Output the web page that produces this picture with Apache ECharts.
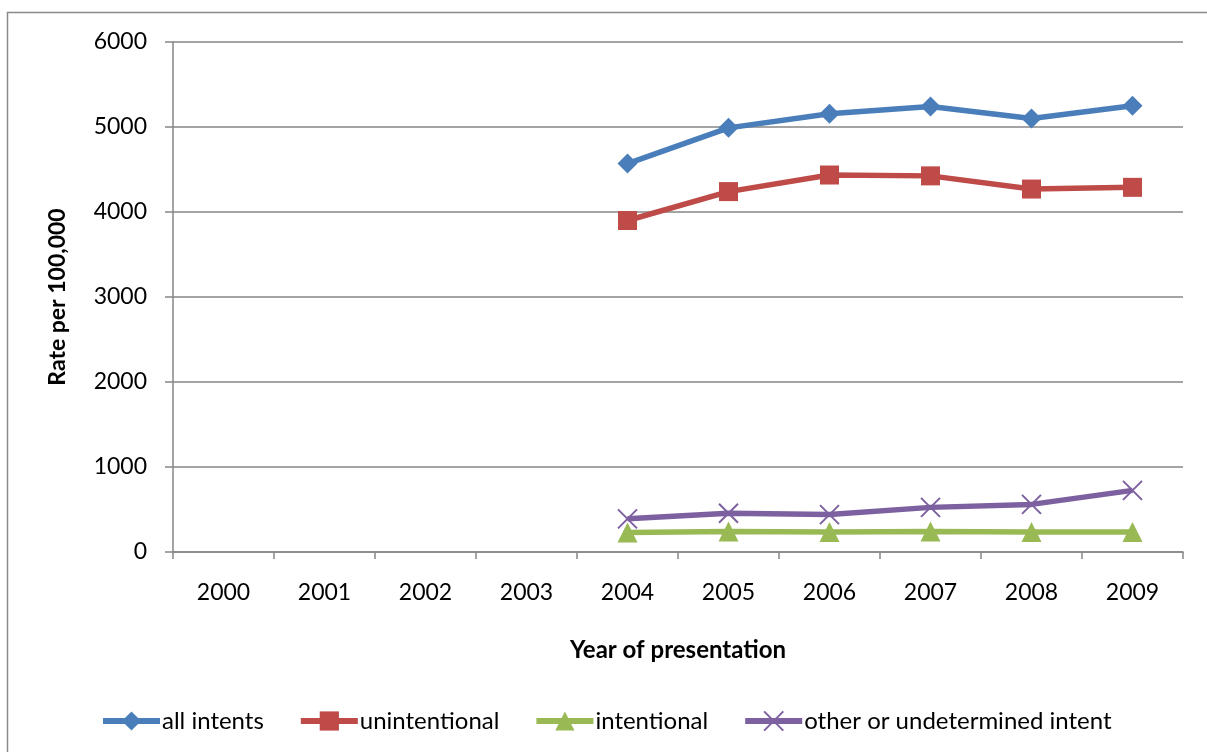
<!DOCTYPE html>
<html>
<head>
<meta charset="utf-8">
<title>Rate per 100,000 by year of presentation</title>
<script src="https://cdn.jsdelivr.net/npm/echarts@6/dist/echarts.min.js"></script>
<style>
  html, body { margin: 0; padding: 0; background: #ffffff; }
  #chart { width: 1207px; height: 752px; }
</style>
</head>
<body>
<div id="chart"></div>
<script>
// Years on the horizontal axis
const years = ['2000', '2001', '2002', '2003', '2004', '2005', '2006', '2007', '2008', '2009'];

// Rates per 100,000 (no data before 2004)
const allIntents    = [null, null, null, null, 4570, 4990, 5155, 5240, 5100, 5250];
const unintentional = [null, null, null, null, 3900, 4240, 4435, 4425, 4270, 4290];
const intentional   = [null, null, null, null, 230, 240, 235, 240, 235, 235];
const otherIntent   = [null, null, null, null, 390, 455, 440, 525, 560, 725];

const seriesNames = ['all intents', 'unintentional', 'intentional', 'other or undetermined intent'];

const FONT = 'Lato';
const GRID = '#868686';

const chart = echarts.init(document.getElementById('chart'), null, { renderer: 'canvas' });

function lineSeries(name, data, color, symbol, size, extra) {
  return Object.assign({
    name: name,
    type: 'line',
    data: data,
    symbol: symbol,
    symbolSize: size,
    showSymbol: true,
    connectNulls: false,
    lineStyle: { color: color, width: 5.5 },
    itemStyle: { color: color },
    emphasis: { disabled: true },
    z: 3
  }, extra || {});
}

chart.setOption({
  animation: false,
  backgroundColor: '#ffffff',
  graphic: [{
    type: 'rect',
    shape: { x: 7.5, y: 12.5, width: 1400, height: 900 },
    style: { fill: 'none', stroke: '#8a8a8a', lineWidth: 1.5 },
    silent: true,
    z: -1
  }],
  grid: { left: 173, right: 24, top: 42, bottom: 200, containLabel: false },
  legend: {
    data: seriesNames,
    bottom: 19,
    left: 100,
    padding: 0,
    itemWidth: 57,
    itemHeight: 24,
    itemGap: 34,
    lineStyle: { width: 6 },
    textStyle: { fontFamily: FONT, fontSize: 24, color: '#000000', padding: [0, 0, 0, -3] }
  },
  xAxis: {
    type: 'category',
    data: years,
    boundaryGap: true,
    name: 'Year of presentation',
    nameLocation: 'middle',
    nameGap: 86,
    nameTextStyle: { fontFamily: FONT, fontSize: 24, fontWeight: 'bold', color: '#000000' },
    axisLine: { show: true, lineStyle: { color: GRID, width: 1.5 } },
    axisTick: { show: true, alignWithLabel: false, inside: false, length: 7, lineStyle: { color: GRID, width: 1.5 } },
    axisLabel: { fontFamily: FONT, fontSize: 23, color: '#000000', margin: 29 },
    splitLine: { show: false }
  },
  yAxis: {
    type: 'value',
    min: 0,
    max: 6000,
    interval: 1000,
    name: 'Rate per 100,000',
    nameLocation: 'middle',
    nameGap: 104,
    nameRotate: 90,
    nameTextStyle: { fontFamily: FONT, fontSize: 23, fontWeight: 'bold', color: '#000000' },
    axisLine: { show: true, lineStyle: { color: GRID, width: 1.5 } },
    axisTick: { show: true, inside: false, length: 8, lineStyle: { color: GRID, width: 1.5 } },
    axisLabel: { fontFamily: FONT, fontSize: 23, color: '#000000', margin: 26, formatter: function (v) { return String(v); } },
    splitLine: { show: true, lineStyle: { color: GRID, width: 1.5 } }
  },
  series: [
    lineSeries(seriesNames[0], allIntents, '#4A7EBB', 'diamond', 20),
    lineSeries(seriesNames[1], unintentional, '#BE4B48', 'rect', 19),
    lineSeries(seriesNames[2], intentional, '#98B954', 'triangle', 20),
    lineSeries(seriesNames[3], otherIntent, '#7D60A0', 'path://M0,0L10,10M10,0L0,10', 19, {
      itemStyle: { color: '#7D60A0', borderColor: '#7D60A0', borderWidth: 2 }
    })
  ]
});
</script>
</body>
</html>
